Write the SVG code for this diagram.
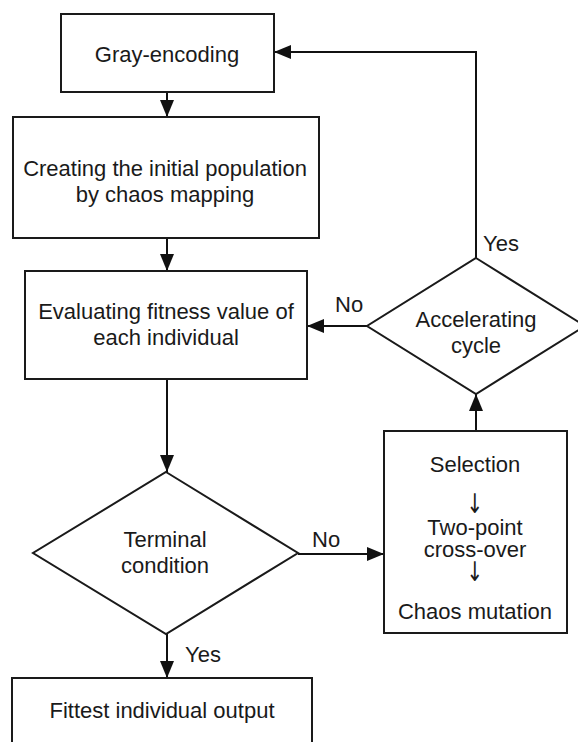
<svg xmlns="http://www.w3.org/2000/svg" width="578" height="742" viewBox="0 0 578 742">
  <defs>
    <marker id="arr" viewBox="0 0 17 14" refX="17" refY="7" markerWidth="17" markerHeight="14" markerUnits="userSpaceOnUse" orient="auto">
      <path d="M0,0 L17,7 L0,14 z" fill="#111"/>
    </marker>
    <style>
      .shape { fill: #fff; stroke: #1a1a1a; stroke-width: 2; }
      .conn { fill: none; stroke: #111; stroke-width: 2; }
      text { font-family: "Liberation Sans", Arial, sans-serif; font-size: 22px; fill: #1a1a1a; }
      .c { text-anchor: middle; }
      .ar { font-family: "DejaVu Sans", sans-serif; font-size: 20px; fill: #1a1a1a; }
    </style>
  </defs>
  <rect width="578" height="742" fill="#fff"/>

  <g id="connectors">
    <path class="conn" d="M167,92 L167,117" marker-end="url(#arr)"/>
    <path class="conn" d="M167,238 L167,271" marker-end="url(#arr)"/>
    <path class="conn" d="M167,379 L167,472" marker-end="url(#arr)"/>
    <path class="conn" d="M167,634 L167,678" marker-end="url(#arr)"/>
    <path class="conn" d="M298,554 L384,554" marker-end="url(#arr)"/>
    <path class="conn" d="M476,431 L476,394" marker-end="url(#arr)"/>
    <path class="conn" d="M367,326 L307,326" marker-end="url(#arr)"/>
    <path class="conn" d="M476,258 L476,52 L274,52" marker-end="url(#arr)"/>
    <text x="483" y="251">Yes</text>
    <text x="335" y="312">No</text>
    <text x="312" y="547">No</text>
    <text x="185" y="662">Yes</text>
  </g>

  <g id="gray-encoding">
    <rect class="shape" x="61" y="14" width="213" height="78"/>
    <text class="c" x="167" y="62">Gray-encoding</text>
  </g>

  <g id="initial-population">
    <rect class="shape" x="13" y="117" width="306" height="121"/>
    <text class="c" x="165" y="176">Creating the initial population</text>
    <text class="c" x="165" y="202">by chaos mapping</text>
  </g>

  <g id="evaluating">
    <rect class="shape" x="25" y="271" width="282" height="108"/>
    <text class="c" x="166" y="319">Evaluating fitness value of</text>
    <text class="c" x="166" y="345">each individual</text>
  </g>

  <g id="terminal">
    <polygon class="shape" points="166,472 298,553 166,634 33,553"/>
    <text class="c" x="165" y="547">Terminal</text>
    <text class="c" x="165" y="573">condition</text>
  </g>

  <g id="fittest">
    <rect class="shape" x="12" y="678" width="300" height="80"/>
    <text class="c" x="162" y="718">Fittest individual output</text>
  </g>

  <g id="operators">
    <rect class="shape" x="384" y="431" width="183" height="202"/>
    <text class="c" x="475" y="472">Selection</text>
    <text class="c ar" transform="translate(475,513) scale(1,1.35)" x="0" y="0">↓</text>
    <text class="c" x="475" y="535">Two-point</text>
    <text class="c" x="475" y="557">cross-over</text>
    <text class="c ar" transform="translate(475,581) scale(1,1.35)" x="0" y="0">↓</text>
    <text class="c" x="475" y="619">Chaos mutation</text>
  </g>

  <g id="accelerating">
    <polygon class="shape" points="476,258 585,326 476,394 367,326"/>
    <text class="c" x="476" y="327">Accelerating</text>
    <text class="c" x="476" y="353">cycle</text>
  </g>
</svg>
